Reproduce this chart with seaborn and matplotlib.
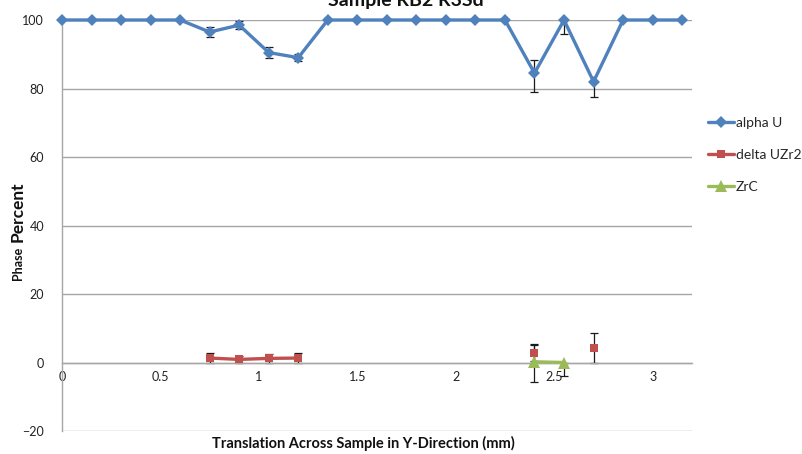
import numpy as np
import pandas as pd
import matplotlib
matplotlib.use("Agg")
import matplotlib.pyplot as plt
from matplotlib.lines import Line2D
import seaborn as sns

# Positions along the sample (mm)
x_mm = [0.00, 0.15, 0.30, 0.45, 0.60, 0.75, 0.90, 1.05, 1.20, 1.35, 1.50,
        1.65, 1.80, 1.95, 2.10, 2.25, 2.40, 2.55, 2.70, 2.85, 3.00, 3.15]

# Phase fractions (%) and their error bars (lower, upper)
alpha_u = [100, 100, 100, 100, 100, 96.5, 98.5, 90.5, 89.0, 100, 100,
           100, 100, 100, 100, 100, 84.5, 100, 82.0, 100, 100, 100]
alpha_u_err_lo = [0, 0, 0, 0, 0, 1.5, 1.2, 1.5, 1.0, 0, 0,
                  0, 0, 0, 0, 0, 5.5, 4.0, 4.5, 0, 0, 0]
alpha_u_err_hi = [0, 0, 0, 0, 0, 1.5, 1.2, 1.5, 1.0, 0, 0,
                  0, 0, 0, 0, 0, 3.8, 4.0, 0.0, 0, 0, 0]

nan = np.nan
delta_uzr2 = [nan, nan, nan, nan, nan, 1.3, 0.9, 1.2, 1.3, nan, nan,
              nan, nan, nan, nan, nan, 2.8, nan, 4.2, nan, nan, nan]
delta_err_lo = [0, 0, 0, 0, 0, 1.4, 1.0, 1.3, 1.4, 0, 0,
                0, 0, 0, 0, 0, 2.5, 0, 4.2, 0, 0, 0]
delta_err_hi = [0, 0, 0, 0, 0, 1.4, 1.0, 1.3, 1.4, 0, 0,
                0, 0, 0, 0, 0, 2.3, 0, 4.4, 0, 0, 0]

zrc = [nan, nan, nan, nan, nan, nan, nan, nan, nan, nan, nan,
       nan, nan, nan, nan, nan, 0.2, 0.0, nan, nan, nan, nan]
zrc_err_lo = [0, 0, 0, 0, 0, 0, 0, 0, 0, 0, 0,
              0, 0, 0, 0, 0, 5.8, 4.0, 0, 0, 0, 0]
zrc_err_hi = [0, 0, 0, 0, 0, 0, 0, 0, 0, 0, 0,
              0, 0, 0, 0, 0, 5.3, 0.0, 0, 0, 0, 0]

series_names = ["alpha U", "delta UZr2", "ZrC"]
series_values = [alpha_u, delta_uzr2, zrc]
series_err = [(alpha_u_err_lo, alpha_u_err_hi),
              (delta_err_lo, delta_err_hi),
              (zrc_err_lo, zrc_err_hi)]
series_colors = ["#4F81BD", "#C0504D", "#9BBB59"]
series_markers = ["D", "s", "^"]
series_msize = [6.5, 6, 8]

x_ticks = [0, 0.5, 1, 1.5, 2, 2.5, 3]
x_tick_labels = ["0", "0.5", "1", "1.5", "2", "2.5", "3"]
y_ticks = [-20, 0, 20, 40, 60, 80, 100]

title_text = "Sample RB2 R3Sd"
x_title = "Translation Across Sample in Y-Direction (mm)"

sns.set_theme(style="white")
plt.rcParams["font.family"] = ["Lato", "DejaVu Sans"]

W, H = 803, 454
fig = plt.figure(figsize=(W / 100, H / 100), dpi=100)
ax = fig.add_axes([62 / W, 1 - 431 / H, 630 / W, 411 / H])

grid_c = "#A6A6A6"
for yv in y_ticks:
    ax.axhline(yv, color=grid_c, lw=1.0, zorder=0)

# Build one long table, splitting each series into runs of consecutive values
rows = []
for name, vals in zip(series_names, series_values):
    seg = 0
    prev_nan = True
    for xv, yv in zip(x_mm, vals):
        if np.isnan(yv):
            prev_nan = True
            continue
        if prev_nan:
            seg += 1
        prev_nan = False
        rows.append({"series": name, "x": xv, "y": yv, "seg": f"{name}-{seg}"})
df = pd.DataFrame(rows)

for name, vals, (elo, ehi), col in zip(series_names, series_values, series_err, series_colors):
    xs = np.array(x_mm)
    ys = np.array(vals, dtype=float)
    lo = np.array(elo, dtype=float)
    hi = np.array(ehi, dtype=float)
    m = ~np.isnan(ys) & ((lo > 0) | (hi > 0))
    ax.errorbar(xs[m], ys[m], yerr=[lo[m], hi[m]], fmt="none", ecolor="#1a1a1a",
                elinewidth=0.9, capsize=3, capthick=0.9, zorder=2)

n_before = len(ax.lines)
for name, col, mk, ms in zip(series_names, series_colors, series_markers, series_msize):
    sub = df[df["series"] == name]
    for seg_id, part in sub.groupby("seg", sort=False):
        sns.lineplot(data=part, x="x", y="y", ax=ax, color=col, lw=2.4,
                     marker=mk, markersize=ms, markeredgewidth=0,
                     estimator=None, sort=False, legend=False, zorder=3)
# Let the markers at the plot edges show in full
for ln in ax.lines[n_before:]:
    ln.set_clip_on(False)

ax.set_xlim(0, 3.2)
ax.set_ylim(-20, 100)
ax.set_xticks(x_ticks)
ax.set_xticklabels(x_tick_labels)
ax.set_yticks(y_ticks)
ax.set_xlabel("")
ax.set_ylabel("")
for s in ["top", "right"]:
    ax.spines[s].set_visible(False)
ax.spines["bottom"].set_position(("data", 0))
ax.spines["bottom"].set_color(grid_c)
ax.spines["left"].set_color(grid_c)
ax.spines["bottom"].set_linewidth(1.0)
ax.spines["left"].set_linewidth(1.0)
ax.tick_params(axis="both", length=0, labelsize=9, colors="#222222")
ax.tick_params(axis="x", pad=6)
ax.tick_params(axis="y", pad=13)
for lab in ax.get_xticklabels() + ax.get_yticklabels():
    lab.set_fontfamily(["Lato", "DejaVu Sans"])

# Titles
fig.text(406 / W, 1 - 6 / H, title_text, ha="center", va="baseline",
         fontsize=14, fontweight="bold", color="#111111")
fig.text(363 / W, 1 - 443 / H, x_title, ha="center", va="center",
         fontsize=10.5, fontweight="bold", color="#111111",
         family=["Liberation Sans Narrow", "Lato", "DejaVu Sans"])
fig.text(18 / W, 1 - 263 / H, "Phase", rotation=90, ha="center", va="center",
         fontsize=9, fontweight="bold", color="#111111")
fig.text(18 / W, 1 - 212 / H, "Percent", rotation=90, ha="center", va="center",
         fontsize=12.5, fontweight="bold", color="#111111")

handles = [Line2D([0], [0], color=c, lw=2.4, marker=mk, markersize=ms, markeredgewidth=0)
           for c, mk, ms in zip(series_colors, series_markers, series_msize)]
fig.legend(handles, series_names, loc="center left",
           bbox_to_anchor=(702 / W, 1 - 155 / H), frameon=False,
           fontsize=10, handlelength=1.9, handletextpad=0.15, labelspacing=1.45,
           borderaxespad=0)

fig.savefig("out.png", dpi=100)
